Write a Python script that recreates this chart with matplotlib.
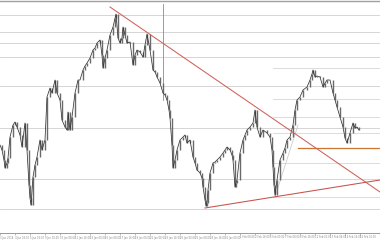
import matplotlib
matplotlib.use("Agg")
import matplotlib.pyplot as plt

# bar position (chart column) and close price
bar_x = [0, 2, 4, 5, 7, 8, 10, 13, 15, 17, 20, 22, 25, 27, 29, 30, 31, 33, 35, 37,
         40, 42, 45, 47, 50, 52, 55, 57, 60, 62, 65, 67, 68, 70, 72, 75, 78, 80, 83, 85,
         87, 90, 93, 95, 97, 100, 102, 103, 105, 107, 110, 113, 115, 116, 118, 120, 122, 123, 125, 127,
         130, 133, 135, 137, 140, 143, 145, 147, 150, 153, 155, 157, 160, 163, 165, 167, 169, 170, 172, 173,
         175, 177, 180, 183, 185, 187, 190, 193, 195, 197, 200, 202, 203, 205, 206, 207, 208, 210, 213, 215,
         217, 220, 223, 225, 227, 230, 232, 233, 235, 236, 237, 240, 243, 245, 247, 250, 253, 255, 257, 260,
         263, 267, 270, 272, 273, 274, 275, 277, 280, 283, 285, 287, 290, 293, 295, 297, 300, 303, 307, 310,
         312, 313, 315, 317, 320, 323, 325, 327, 330, 333, 335, 337, 340, 343, 345, 347, 350, 353, 355, 357, 359]
close = [95, 90, 80, 72, 77, 82, 103, 115, 118, 113, 105, 93, 117, 90, 55, 42, 35, 63, 75, 83,
         100, 90, 100, 143, 152, 147, 160, 147, 140, 120, 113, 110, 128, 110, 123, 147, 160, 160, 170, 174,
         177, 182, 190, 192, 197, 200, 185, 172, 182, 190, 205, 213, 222, 226, 202, 197, 202, 213, 205, 197,
         198, 175, 185, 190, 188, 183, 195, 206, 190, 170, 168, 163, 157, 147, 145, 140, 130, 122, 95, 72,
         80, 90, 100, 103, 105, 97, 100, 83, 77, 70, 67, 62, 53, 40, 34, 37, 50, 67, 77, 78,
         80, 83, 87, 90, 93, 90, 85, 80, 53, 57, 60, 87, 100, 105, 110, 113, 117, 130, 113, 103,
         110, 107, 103, 90, 73, 55, 45, 60, 80, 87, 92, 100, 103, 115, 130, 140, 143, 150, 153, 160,
         166, 170, 163, 164, 163, 153, 157, 160, 160, 147, 140, 133, 123, 113, 102, 97, 107, 117, 112, 113, 110]

# horizontal levels drawn on the chart
full_levels = [225, 208, 197, 183, 154, 112, 61, 31]
right_levels = [172, 141, 123, 107, 77, 43]
orange_level = 92

# trend lines (bar position, price)
down_trend = ([110, 380], [233, 48])
up_trend = ([205, 380], [32, 60])
ray_line = ([275, 298], [43, 115])
marker_x = 163

date_labels = ["3 Jan 2018", "4 Jan 08:00", "5 Jan 16:00", "9 Jan 00:00", "10 Jan 08:00",
               "11 Jan 16:00", "15 Jan 00:00", "16 Jan 08:00", "17 Jan 16:00", "19 Jan 00:00",
               "22 Jan 08:00", "23 Jan 16:00", "25 Jan 00:00", "26 Jan 08:00", "29 Jan 16:00",
               "31 Jan 00:00", "1 Feb 08:00", "2 Feb 16:00", "6 Feb 00:00", "7 Feb 08:00",
               "8 Feb 16:00", "12 Feb 00:00", "13 Feb 08:00", "14 Feb 16:00", "16 Feb 00:00"]

fig = plt.figure(figsize=(3.8, 2.4), dpi=100)
ax = fig.add_axes([0, 7 / 240, 1, 233 / 240])
ax.set_xlim(0, 380)
ax.set_ylim(7, 240)

# levels
for lv in full_levels:
    ax.axhline(lv, color="#cfcfcf", lw=0.6, zorder=1)
for lv in right_levels:
    ax.plot([273, 380], [lv, lv], color="#d6d6d6", lw=0.6, zorder=1)
ax.plot([298, 380], [orange_level, orange_level], color="#c87533", lw=0.9, zorder=2)
ax.axhline(239, color="#a0a0a0", lw=1.0, zorder=1)
ax.plot([marker_x, marker_x], [236, 140], color="#8a8a8a", lw=0.6, zorder=1)

# price bars: open = previous close
ax.vlines(bar_x[1:], close[:-1], close[1:], color="#6a6a6a", lw=1.0, zorder=3)
ax.plot(bar_x, close, color="#333333", lw=0.55, zorder=4)

# trend lines
ax.plot(*down_trend, color="#d0605a", lw=0.75, zorder=5)
ax.plot(*up_trend, color="#c8504a", lw=0.75, zorder=5)
ax.plot(*ray_line, color="#cccccc", lw=0.6, zorder=2)

# time axis
tick_x = [15 * i for i in range(len(date_labels))]
ax.set_xticks(tick_x)
ax.set_xticklabels(date_labels, fontsize=1.8, color="#444444", ha="left")
ax.tick_params(axis="x", length=1.2, width=0.4, pad=0.6, colors="#888888")
ax.set_yticks([])
for side in ["top", "left", "right"]:
    ax.spines[side].set_visible(False)
ax.spines["bottom"].set_color("#9a9a9a")
ax.spines["bottom"].set_linewidth(0.7)

fig.savefig("out.png", dpi=100)
